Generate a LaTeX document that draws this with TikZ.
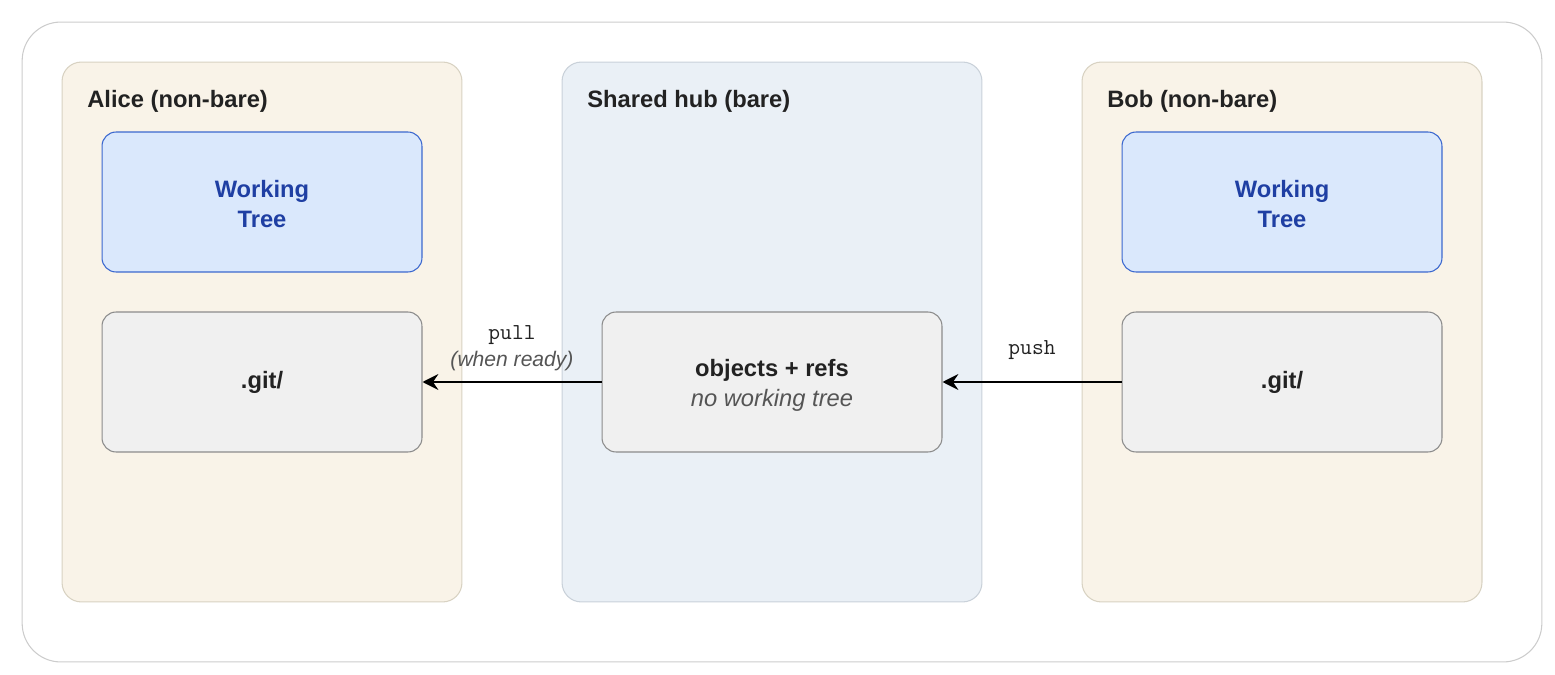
\documentclass[tikz,border=0pt]{standalone}
\usepackage{fontspec}
\setmainfont{Liberation Sans}
\usetikzlibrary{arrows.meta}

\definecolor{sand}{HTML}{F9F3E8}
\definecolor{sandline}{HTML}{D8D2C2}
\definecolor{hubfill}{HTML}{EAF0F6}
\definecolor{hubline}{HTML}{C9D1D9}
\definecolor{wtfill}{HTML}{DAE8FC}
\definecolor{wtline}{HTML}{3B68CF}
\definecolor{wttext}{HTML}{1F3FA3}
\definecolor{gitfill}{HTML}{F0F0F0}
\definecolor{gitline}{HTML}{8C8C8C}
\definecolor{ink}{HTML}{222222}
\definecolor{note}{HTML}{555555}

\begin{document}
\begin{tikzpicture}[x=0.02cm,y=-0.02cm,
    every node/.style={text=ink},
    panel/.style={draw=sandline,fill=sand,line width=.6pt,rounded corners=11pt,
      minimum width=8cm,minimum height=10.8cm},
    title/.style={anchor=west,inner sep=0pt,font=\bfseries\fontsize{13.5}{16}\selectfont},
    box/.style={draw=gitline,fill=gitfill,line width=.6pt,rounded corners=8pt,
      minimum width=6.4cm,minimum height=2.8cm,align=center,
      font=\fontsize{13.5}{17}\selectfont},
    wtbox/.style={box,draw=wtline,fill=wtfill,text=wttext,font=\bfseries\fontsize{13.5}{17}\selectfont},
    flow/.style={-{Stealth[length=9pt,width=9pt,inset=3pt]},line width=1.1pt,black},
    lbl/.style={inner sep=0pt,align=center,text=note,font=\fontsize{12}{15.3}\selectfont},
    mono/.style={font=\ttfamily\fontsize{13}{15}\selectfont}]
  \useasboundingbox (0,0) rectangle (1555,675);
  \node[draw=black!20,line width=.6pt,rounded corners=22pt,minimum width=30.4cm,
    minimum height=12.8cm] (frame) at (782,342) {};
  % the two clones
  \foreach \who/\x/\name in {alice/262/Alice,bob/1282/Bob} {
    \node[panel] (\who) at (\x,332) {};
    \node[title] (\who-title) at (\x-175,101) {\name\ (non-bare)};
    \node[wtbox] (\who-wt) at (\x,202) {\rule{0pt}{12pt}Working\\Tree};
    \node[box] (\who-git) at (\x,382) {\raisebox{-1pt}{\textbf{.git/}}};
  }
  % the bare hub
  \node[panel,draw=hubline,fill=hubfill,minimum width=8.4cm] (hub) at (772,332) {};
  \node[title] (hub-title) at (587,101) {Shared hub (bare)};
  \node[box,minimum width=6.8cm] (store) at (772,382)
    {\rule{0pt}{13.5pt}\textbf{objects + refs}\\{\color{note}\itshape no working tree}};
  \draw[flow] (store) -- (alice-git)
    node[lbl,midway,above=6pt] {{\ttfamily\fontsize{13}{15}\selectfont\color{ink}pull}\\\itshape(when ready)};
  \draw[flow] (bob-git) -- (store)
    node[lbl,mono,midway,above=12pt,text=ink] {push};
\end{tikzpicture}
\end{document}
